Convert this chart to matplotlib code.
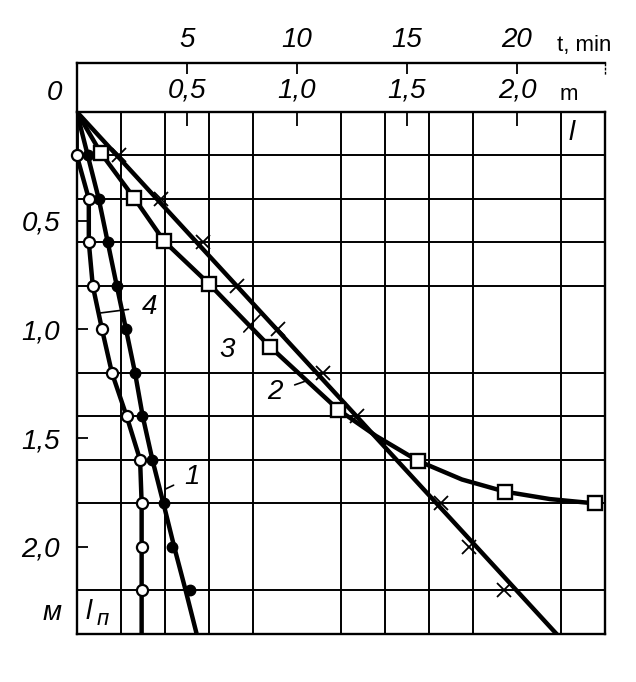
import numpy as np
import matplotlib.pyplot as plt

# horizontal: l, m (time t = 10*l, min); vertical (downward): l_n, m
ln_rows = [0.2, 0.4, 0.6, 0.8, 1.0, 1.2, 1.4, 1.6, 1.8, 2.0, 2.2]

# curve 1 - filled dots
l1 = [0.05, 0.10, 0.141, 0.182, 0.224, 0.267, 0.298, 0.344, 0.397, 0.435, 0.514]
l1_line = [0, 0.05, 0.10, 0.141, 0.182, 0.224, 0.265, 0.300, 0.344, 0.394, 0.443, 0.495, 0.545]
ln1_line = [0, 0.2, 0.4, 0.6, 0.8, 1.0, 1.2, 1.4, 1.6, 1.8, 2.0, 2.2, 2.4]

# curve 4 - open circles
l4 = [0.0, 0.055, 0.055, 0.073, 0.115, 0.16, 0.227, 0.288, 0.295, 0.295, 0.295]
l4_line = [0, 0.0, 0.055, 0.055, 0.073, 0.115, 0.16, 0.227, 0.288, 0.295, 0.295, 0.295, 0.295]
ln4_line = [0, 0.2, 0.4, 0.6, 0.8, 1.0, 1.2, 1.4, 1.6, 1.8, 2.0, 2.2, 2.4]

# curve 2 - squares
l2 = [0.11, 0.262, 0.398, 0.60, 0.878, 1.189, 1.552, 1.946, 2.355]
ln2 = [0.19, 0.398, 0.596, 0.79, 1.08, 1.37, 1.605, 1.746, 1.80]
l2_line = [0, 0.11, 0.262, 0.398, 0.60, 0.878, 1.189, 1.36, 1.552, 1.75, 1.946, 2.15, 2.355]
ln2_line = [0, 0.19, 0.398, 0.596, 0.79, 1.08, 1.37, 1.49, 1.605, 1.69, 1.746, 1.78, 1.80]

# curve 3 - crosses
l3 = [0.19, 0.385, 0.575, 0.73, 0.915, 1.12, 1.275, 1.655, 1.78, 1.94]
ln3 = [0.2, 0.4, 0.6, 0.8, 1.0, 1.2, 1.4, 1.8, 2.0, 2.2]
l3_line = [0, 2.18]
ln3_line = [0, 2.4]

m_ticks = [0.5, 1.0, 1.5, 2.0]
m_labels = ["0,5", "1,0", "1,5", "2,0"]
t_ticks = [5, 10, 15, 20]

FAM = ["Liberation Sans", "DejaVu Sans"]
NUM = dict(family=FAM, style="italic", size=20)
W, H = 636, 682

fig = plt.figure(figsize=(W / 100, H / 100), dpi=100)
ax = fig.add_axes([76.7 / W, 1 - 634 / H, (605 - 76.7) / W, (634 - 111.7) / H])
ax.set_xlim(0, 2.4)
ax.set_ylim(2.4, 0)

ax.set_xticks(np.arange(0, 2.41, 0.2), minor=True)
ax.set_yticks(np.arange(0, 2.41, 0.2), minor=True)
ax.grid(which="minor", color="k", lw=1.4)
ax.tick_params(which="minor", length=0)

ax.xaxis.tick_top()
ax.set_xticks(m_ticks)
ax.set_xticklabels(m_labels, fontdict=NUM)
ax.set_yticks(m_ticks)
ax.set_yticklabels(m_labels, fontdict=NUM)
ax.tick_params(axis="x", which="major", direction="in", length=10, width=1.3, pad=6)
ax.tick_params(axis="y", which="major", direction="in", length=8, width=1.3, pad=12)
for s in ax.spines.values():
    s.set_linewidth(1.7)

sec = ax.secondary_xaxis(1 + 49 / 522.3, functions=(lambda x: x * 10, lambda x: x / 10))
sec.set_xticks(t_ticks)
sec.set_xticklabels([str(t) for t in t_ticks], fontdict=NUM)
sec.tick_params(direction="in", length=8, width=1.3, pad=7)
sec.spines["top"].set_linewidth(1.7)

ax.plot([0, 0], [1, 1 + 49 / 522.3], transform=ax.transAxes, color="k", lw=1.7, clip_on=False)
ax.plot([1, 1], [1 + 49 / 522.3, 1.07], transform=ax.transAxes, color="k", lw=1.0,
        ls=(0, (2, 1)), clip_on=False)

LW = 3.2
ax.plot(l1_line, ln1_line, color="k", lw=LW, zorder=3)
ax.plot(l4_line, ln4_line, color="k", lw=LW, zorder=3)
ax.plot(l2_line, ln2_line, color="k", lw=LW, zorder=3)
ax.plot(l3_line, ln3_line, color="k", lw=LW, zorder=3)

ax.plot(l1, ln_rows, ls="none", marker="o", ms=7.5, mfc="k", mec="k", zorder=5, clip_on=False)
ax.plot(l4, ln_rows, ls="none", marker="o", ms=8, mfc="white", mec="k", mew=1.6,
        zorder=5, clip_on=False)
ax.plot(l2, ln2, ls="none", marker="s", ms=10, mfc="white", mec="k", mew=1.7,
        zorder=5, clip_on=False)
ax.plot(l3, ln3, ls="none", marker="x", ms=10, mec="k", mew=1.3, zorder=5)

# curve numbers
ax.annotate("1", xy=(0.401, 1.735), xytext=(0.522, 1.677), ha="center", va="center",
            arrowprops=dict(arrowstyle="-", lw=1.2, shrinkA=6, shrinkB=0), **NUM)
ax.annotate("2", xy=(1.045, 1.236), xytext=(0.901, 1.287), ha="center", va="center",
            arrowprops=dict(arrowstyle="-", lw=1.2, shrinkA=7, shrinkB=0), **NUM)
ax.annotate("3", xy=(0.833, 0.934), xytext=(0.681, 1.095), ha="center", va="center",
            arrowprops=dict(arrowstyle="-", lw=1.2, shrinkA=7, shrinkB=0), **NUM)
ax.annotate("4", xy=(0.106, 0.925), xytext=(0.333, 0.896), ha="center", va="center",
            arrowprops=dict(arrowstyle="-", lw=1.2, shrinkA=8, shrinkB=0), **NUM)

ax.text(2.25, 0.1, "l", ha="center", va="center", **NUM)
ax.text(0.053, 2.3, "l", ha="center", va="center", **NUM)
ax.text(0.118, 2.335, "п", ha="center", va="center", family=FAM, style="italic", size=16)

fig.text(62 / W, 1 - 93 / H, "0", ha="right", va="center", **NUM)
fig.text(62 / W, 1 - 613 / H, "м", ha="right", va="center", **NUM)
fig.text(557 / W, 1 - 45 / H, "t, min", ha="left", va="center", family=FAM, size=16)
fig.text(560 / W, 1 - 94 / H, "m", ha="left", va="center", family=FAM, size=16)

fig.savefig("out.png", dpi=100, facecolor="white")
